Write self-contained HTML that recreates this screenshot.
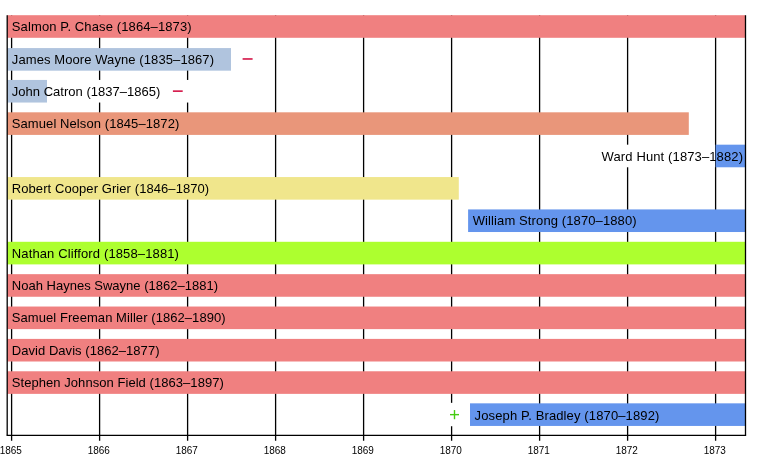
<!DOCTYPE html><html><head><meta charset="utf-8"><style>html,body{margin:0;padding:0;background:#fff;}svg{display:block}text{font-family:"Liberation Sans",sans-serif;}svg{will-change:transform}</style></head><body>
<svg width="775" height="455" viewBox="0 0 775 455">
<rect x="0" y="0" width="775" height="455" fill="#fff"/>
<line x1="11.60" y1="15.2" x2="11.60" y2="440.8" stroke="#000" stroke-width="1.3"/>
<line x1="99.60" y1="15.2" x2="99.60" y2="440.8" stroke="#000" stroke-width="1.3"/>
<line x1="187.60" y1="15.2" x2="187.60" y2="440.8" stroke="#000" stroke-width="1.3"/>
<line x1="275.60" y1="15.2" x2="275.60" y2="440.8" stroke="#000" stroke-width="1.3"/>
<line x1="363.60" y1="15.2" x2="363.60" y2="440.8" stroke="#000" stroke-width="1.3"/>
<line x1="451.60" y1="15.2" x2="451.60" y2="440.8" stroke="#000" stroke-width="1.3"/>
<line x1="539.60" y1="15.2" x2="539.60" y2="440.8" stroke="#000" stroke-width="1.3"/>
<line x1="627.60" y1="15.2" x2="627.60" y2="440.8" stroke="#000" stroke-width="1.3"/>
<line x1="715.60" y1="15.2" x2="715.60" y2="440.8" stroke="#000" stroke-width="1.3"/>
<rect x="40" y="79.94" width="150" height="22.6" fill="#fff"/>
<rect x="235" y="47.57" width="25" height="22.6" fill="#fff"/>
<rect x="595" y="144.68" width="120" height="22.6" fill="#fff"/>
<rect x="440" y="402.84" width="28" height="23.400000000000002" fill="#fff"/>
<rect x="7.20" y="15.20" width="738.30" height="22.6" fill="#f08080"/>
<rect x="7.20" y="48.07" width="223.80" height="22.6" fill="#b0c4de"/>
<rect x="7.20" y="79.94" width="39.80" height="22.6" fill="#b0c4de"/>
<rect x="7.20" y="112.31" width="681.60" height="22.6" fill="#e9967a"/>
<rect x="715.60" y="144.68" width="29.90" height="22.6" fill="#6495ed"/>
<rect x="7.20" y="177.05" width="451.60" height="22.6" fill="#f0e68c"/>
<rect x="468.10" y="209.42" width="277.40" height="22.6" fill="#6495ed"/>
<rect x="7.20" y="241.79" width="738.30" height="22.6" fill="#adff2f"/>
<rect x="7.20" y="274.16" width="738.30" height="22.6" fill="#f08080"/>
<rect x="7.20" y="306.53" width="738.30" height="22.6" fill="#f08080"/>
<rect x="7.20" y="338.90" width="738.30" height="22.6" fill="#f08080"/>
<rect x="7.20" y="371.27" width="738.30" height="22.6" fill="#f08080"/>
<rect x="470.00" y="403.34" width="275.50" height="22.6" fill="#6495ed"/>
<line x1="7.2" y1="15.2" x2="7.2" y2="435.3" stroke="#000" stroke-width="1.3"/>
<line x1="745.5" y1="15.2" x2="745.5" y2="435.3" stroke="#000" stroke-width="1.3"/>
<line x1="6.55" y1="435.3" x2="746.15" y2="435.3" stroke="#000" stroke-width="1.3"/>
<text x="11.80" y="31.10" font-size="13" textLength="179.83" lengthAdjust="spacing" fill="#000">Salmon P. Chase (1864–1873)</text>
<text x="11.80" y="64.37" font-size="13" textLength="202.19" lengthAdjust="spacing" fill="#000">James Moore Wayne (1835–1867)</text>
<text x="11.80" y="95.84" font-size="13" textLength="148.57" lengthAdjust="spacing" fill="#000">John Catron (1837–1865)</text>
<text x="11.80" y="128.21" font-size="13" textLength="167.50" lengthAdjust="spacing" fill="#000">Samuel Nelson (1845–1872)</text>
<text x="743.0" y="161.28" font-size="13" text-anchor="end" textLength="141.40" lengthAdjust="spacing" fill="#000">Ward Hunt (1873–1882)</text>
<text x="11.80" y="192.95" font-size="13" textLength="197.41" lengthAdjust="spacing" fill="#000">Robert Cooper Grier (1846–1870)</text>
<text x="472.70" y="225.32" font-size="13" textLength="163.94" lengthAdjust="spacing" fill="#000">William Strong (1870–1880)</text>
<text x="11.80" y="257.69" font-size="13" textLength="167.13" lengthAdjust="spacing" fill="#000">Nathan Clifford (1858–1881)</text>
<text x="11.80" y="290.06" font-size="13" textLength="206.17" lengthAdjust="spacing" fill="#000">Noah Haynes Swayne (1862–1881)</text>
<text x="11.80" y="322.43" font-size="13" textLength="213.82" lengthAdjust="spacing" fill="#000">Samuel Freeman Miller (1862–1890)</text>
<text x="11.80" y="354.80" font-size="13" textLength="147.70" lengthAdjust="spacing" fill="#000">David Davis (1862–1877)</text>
<text x="11.80" y="387.17" font-size="13" textLength="212.03" lengthAdjust="spacing" fill="#000">Stephen Johnson Field (1863–1897)</text>
<text x="474.60" y="419.54" font-size="13" textLength="184.77" lengthAdjust="spacing" fill="#000">Joseph P. Bradley (1870–1892)</text>
<rect x="242.6" y="58.17" width="10" height="1.6" fill="#d41446"/>
<rect x="172.9" y="90.34" width="9.8" height="1.6" fill="#d41446"/>
<rect x="450" y="413.94" width="9" height="1.4" fill="#44cc11"/>
<rect x="453.8" y="410.04" width="1.4" height="9.2" fill="#44cc11"/>
<text x="10.80" y="453.9" font-size="11" text-anchor="middle" textLength="22.2" lengthAdjust="spacingAndGlyphs" fill="#000">1865</text>
<text x="98.80" y="453.9" font-size="11" text-anchor="middle" textLength="22.2" lengthAdjust="spacingAndGlyphs" fill="#000">1866</text>
<text x="186.80" y="453.9" font-size="11" text-anchor="middle" textLength="22.2" lengthAdjust="spacingAndGlyphs" fill="#000">1867</text>
<text x="274.80" y="453.9" font-size="11" text-anchor="middle" textLength="22.2" lengthAdjust="spacingAndGlyphs" fill="#000">1868</text>
<text x="362.80" y="453.9" font-size="11" text-anchor="middle" textLength="22.2" lengthAdjust="spacingAndGlyphs" fill="#000">1869</text>
<text x="450.80" y="453.9" font-size="11" text-anchor="middle" textLength="22.2" lengthAdjust="spacingAndGlyphs" fill="#000">1870</text>
<text x="538.80" y="453.9" font-size="11" text-anchor="middle" textLength="22.2" lengthAdjust="spacingAndGlyphs" fill="#000">1871</text>
<text x="626.80" y="453.9" font-size="11" text-anchor="middle" textLength="22.2" lengthAdjust="spacingAndGlyphs" fill="#000">1872</text>
<text x="714.80" y="453.9" font-size="11" text-anchor="middle" textLength="22.2" lengthAdjust="spacingAndGlyphs" fill="#000">1873</text>
</svg></body></html>
